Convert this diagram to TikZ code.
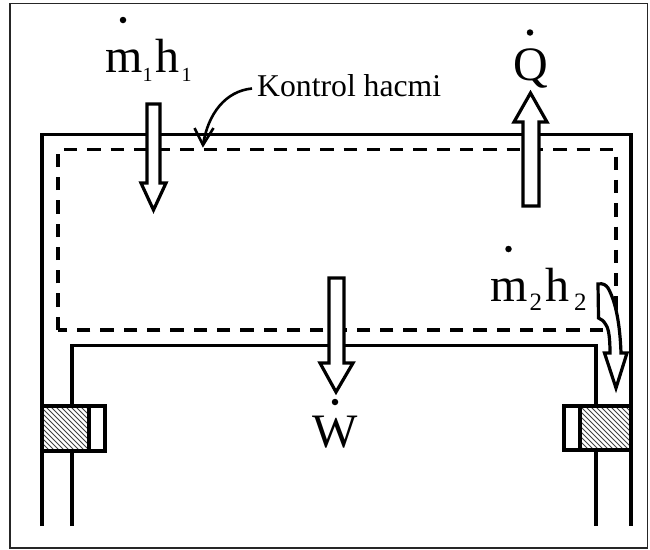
\documentclass[tikz,border=0pt]{standalone}
\usepackage{fontspec}
\setmainfont{Liberation Serif}
\newcommand{\bigtxt}{\fontsize{48}{48}\selectfont}
\newcommand{\labtxt}{\fontsize{31.7}{34}\selectfont}
\newcommand{\subtxt}[2]{\raisebox{-9.5pt}{\fontsize{#1}{#1}\selectfont #2}}
\tikzset{
  wall/.style={line width=3.1pt,line join=miter},
  ctrl/.style={line width=3.4pt,dash pattern=on 13.3pt off 10pt},
  flow/.style={line width=3.2pt,fill=white,miter limit=6,line join=miter},
  frameline/.style={line width=1.5pt,draw=black!85},
  seal/.style={line width=3.4pt,fill=white},
  symb/.style={inner sep=0pt,anchor=base west},
  dotmark/.style={fill=black,circle,inner sep=0pt,minimum size=6.5pt}
}
\begin{document}
\begin{tikzpicture}[x=1pt,y=-1pt]
\useasboundingbox (0,0) rectangle (650,549);
\fill[white] (0,0) rectangle (650,549);
\draw[frameline] (10,3.5) rectangle (647.5,548);
% duct
\draw[wall,line width=3.4pt] (42,526) -- (42,134.5) -- (631,134.5) -- (631,526);
\draw[wall] (72,526) -- (72,345.5) -- (596,345.5) -- (596,526);
% control volume
\draw[ctrl] (58,330) -- (58,149.5) -- (616,149.5) -- (616,330) -- cycle;
% seals
\fill[white] (42,406) rectangle (89,451);
\fill[white] (580,406) rectangle (631,450);
\begin{scope}
\clip (42,406) rectangle (89,451);
\foreach \k in {0,5,...,100}{\draw[line width=1pt,black!75] (\k-5,406) -- (\k+45,456);}
\end{scope}
\begin{scope}
\clip (580,406) rectangle (631,450);
\foreach \k in {0,5,...,100}{\draw[line width=1pt,black!75] (\k+530,406) -- (\k+580,456);}
\end{scope}
\draw[seal,fill=none] (42,406) rectangle (89,451);
\draw[seal] (89,406) rectangle (105,451);
\draw[seal,fill=none] (580,406) rectangle (631,450);
\draw[seal] (564,406) rectangle (580,450);
% flow arrows
\draw[flow] (147,104) -- (160,104) -- (160,183) -- (166,183) -- (153.5,210) -- (141,183) -- (147,183) -- cycle;
\draw[flow] (523,206) -- (539,206) -- (539,122) -- (547,122) -- (530.5,93) -- (514,122) -- (523,122) -- cycle;
\draw[flow] (329,278) -- (344,278) -- (344,363) -- (353,363) -- (336,392) -- (320,363) -- (329,363) -- cycle;
\draw[flow] (598,284) .. controls (603,283) and (606,285) .. (608,288)
  .. controls (616,302) and (620,325) .. (621,353) -- (627,353) -- (616,388) -- (604.5,353) -- (610,353)
  .. controls (610,340) and (609,329) .. (606,325) .. controls (604,321) and (601,319) .. (598.5,318) -- cycle;
% pointer
\node[symb] (kh) at (257,96) {\labtxt Kontrol hacmi};
\coordinate (tail) at (252,88.5);
\coordinate (tip) at (203,145);
\draw[line width=2.6pt] (tail) .. controls (226,91) and (208,113) .. (tip);
\draw[line width=2.6pt,line join=miter] (194.5,128) -- (tip) -- (213.5,128);
% symbols
\node[symb] (mh1) at (105,72) {\bigtxt m\subtxt{20}{1}\hspace{3pt}h\hspace{2pt}\subtxt{20}{1}};
\node[symb] (qq) at (513,80) {\bigtxt Q};
\node[symb] (ww) at (312.5,447) {\bigtxt W};
\node[symb] (mh2) at (490,301) {\bigtxt m\hspace{2pt}\subtxt{25}{2}\hspace{3pt}h\hspace{5pt}\subtxt{25}{2}};
\node[dotmark] (d1) at (123,20) {};
\node[dotmark] (d2) at (530,32.5) {};
\node[dotmark] (d3) at (335,402) {};
\node[dotmark] (d4) at (508.5,249) {};
\end{tikzpicture}
\end{document}
